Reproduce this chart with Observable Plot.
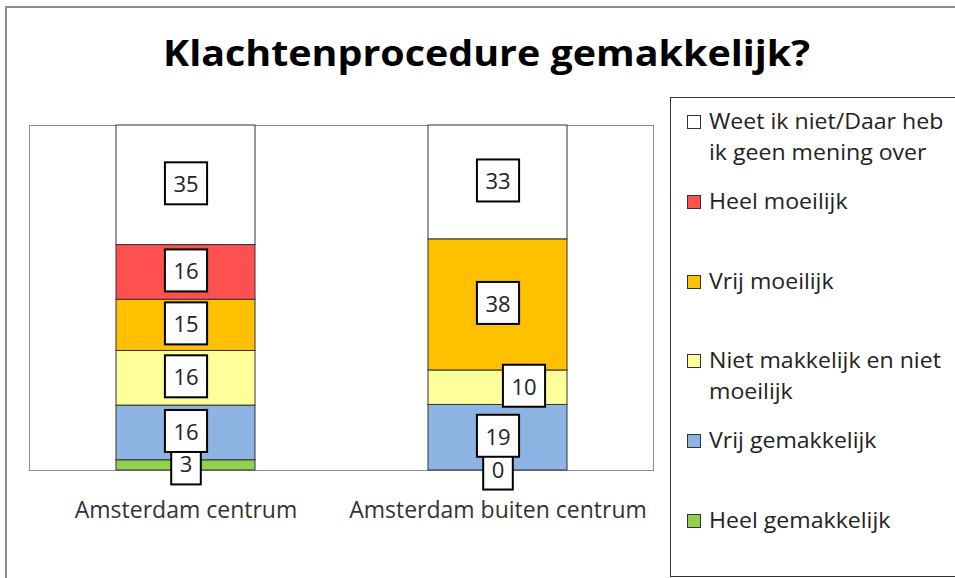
<!DOCTYPE html>
<html>
<head>
<meta charset="utf-8">
<script src="https://cdn.jsdelivr.net/npm/d3@7"></script>
<script src="https://cdn.jsdelivr.net/npm/@observablehq/plot@0.6"></script>
<style>
  html, body { margin: 0; padding: 0; background: #fff; }
  #wrap { position: relative; width: 955px; height: 578px; overflow: hidden; background: #fff; font-family: "Open Sans", Lato, sans-serif; }
  #outer { position: absolute; left: 5px; top: 6px; width: 980px; height: 620px; border: 2px solid #8c8c8c; box-sizing: border-box; }
  #title { position: absolute; left: 486px; top: 35px; font-weight: 700; font-size: 35px; line-height: 35px; color: #000; white-space: nowrap; transform-origin: 0 0; }
  #chart { position: absolute; left: 0; top: 100px; }
  #legend { position: absolute; left: 670px; top: 97px; width: 300px; height: 480px; border: 1px solid #333; box-sizing: border-box; background: #fff; }
  .entry { position: absolute; left: 16px; width: 270px; }
  .sw { position: absolute; left: 0; top: 9px; width: 14px; height: 14px; border: 1px solid #333; box-sizing: border-box; }
  .lt { position: absolute; left: 22px; width: 222px; font-size: 21px; line-height: 31px; color: #222; transform: scaleX(1.1); transform-origin: 0 0; }
</style>
</head>
<body>
<div id="wrap">
  <div id="outer"></div>
  <div id="title"></div>
  <div id="chart"></div>
  <div id="legend"></div>
</div>
<script>
const titleText = "Klachtenprocedure gemakkelijk?";
const locations = ["Amsterdam centrum", "Amsterdam buiten centrum"];
// stack order bottom → top
const answers = ["Heel gemakkelijk", "Vrij gemakkelijk", "Niet makkelijk en niet moeilijk", "Vrij moeilijk", "Heel moeilijk", "Weet ik niet/Daar heb ik geen mening over"];
const colors = ["#92D050", "#8DB4E2", "#FFFF99", "#FFC000", "#FF5050", "#FFFFFF"];
const centrum = [3, 16, 16, 15, 16, 35];
const buiten = [0, 19, 10, 38, null, 33];

const series = [centrum, buiten];
const data = [];
answers.forEach((a, i) => {
  locations.forEach((loc, j) => {
    const v = series[j][i];
    data.push({loc, answer: a, value: v == null ? 0 : v, label: v == null ? null : String(v)});
  });
});

// title, stretched to the reference width
const title = document.getElementById("title");
title.textContent = titleText;
{
  const w = title.getBoundingClientRect().width;
  const target = 647;
  title.style.left = (486.5 - target / 2) + "px";
  title.style.transform = `scaleX(${target / w})`;
}

const stackOpts = {x: "loc", y: "value", z: "answer", offset: "normalize"};
const shifted = d => d.loc === locations[1] && d.answer === answers[2];

const plot = Plot.plot({
  width: 660,
  height: 430,
  marginLeft: 29,
  marginRight: 7,
  marginTop: 25,
  marginBottom: 60,
  style: {fontFamily: "'Open Sans', Lato, sans-serif", fontSize: "23px", color: "#333", background: "transparent"},
  x: {domain: locations, paddingInner: 0.555, paddingOuter: 0.2775, label: null, tickSize: 0, tickPadding: 31},
  y: {domain: [0, 1], axis: null},
  color: {domain: answers, range: colors},
  marks: [
    Plot.frame({stroke: "#8c8c8c"}),
    Plot.barY(data, Plot.stackY({...stackOpts, fill: "answer", stroke: "#333", strokeWidth: 1})),
    Plot.text(data, Plot.stackY({...stackOpts, text: d => shifted(d) ? null : d.label, fill: "#222", fontSize: 22, className: "lbl"})),
    Plot.text(data, Plot.stackY({...stackOpts, text: d => shifted(d) ? d.label : null, dx: 26, fill: "#222", fontSize: 22, className: "lbl"}))
  ]
});
document.getElementById("chart").appendChild(plot);

// white boxes with black border behind each data label
plot.querySelectorAll("g.lbl text").forEach(t => {
  const b = t.getBBox();
  const w = b.width + 17, h = 42;
  const cx = b.x + b.width / 2, cy = b.y + b.height / 2;
  const r = document.createElementNS("http://www.w3.org/2000/svg", "rect");
  r.setAttribute("x", cx - w / 2);
  r.setAttribute("y", cy - h / 2);
  r.setAttribute("width", w);
  r.setAttribute("height", h);
  r.setAttribute("fill", "#fff");
  r.setAttribute("stroke", "#000");
  r.setAttribute("stroke-width", 2);
  const tr = t.getAttribute("transform");
  if (tr) r.setAttribute("transform", tr);
  t.parentNode.insertBefore(r, t);
});

// legend (top entry first)
const legend = document.getElementById("legend");
const order = answers.map((a, i) => i).reverse();
order.forEach((i, k) => {
  const e = document.createElement("div");
  e.className = "entry";
  e.style.top = (8 + k * 79.8) + "px";
  const sw = document.createElement("div");
  sw.className = "sw";
  sw.style.background = colors[i];
  const lt = document.createElement("div");
  lt.className = "lt";
  lt.textContent = answers[i];
  e.appendChild(sw);
  e.appendChild(lt);
  legend.appendChild(e);
});
</script>
</body>
</html>
